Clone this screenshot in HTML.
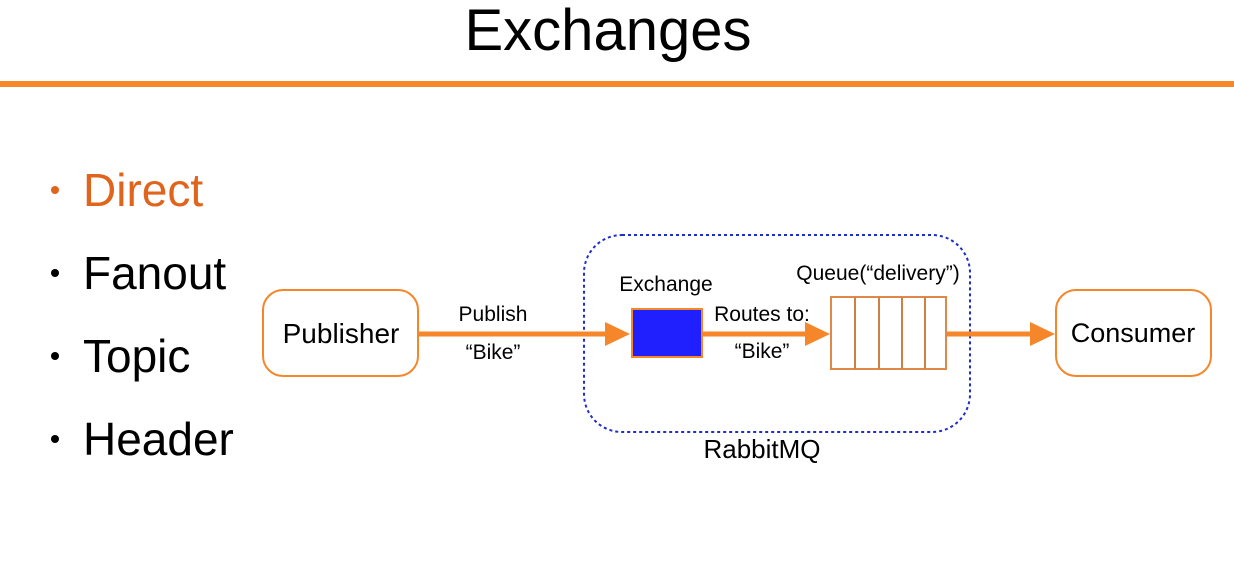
<!DOCTYPE html>
<html><head><style>
body{margin:0;background:#fff;}
svg{display:block;font-family:"Liberation Sans",Arial,sans-serif;}
</style></head><body>
<svg width="1234" height="572" viewBox="0 0 1234 572">
<text x="608" y="50" font-size="58" text-anchor="middle" fill="#000">Exchanges</text>
<rect x="0" y="81" width="1234" height="6" fill="#f5862a"/>
<g font-size="46">
<circle cx="55" cy="190" r="4" fill="#e0641c"/>
<text x="83" y="206" fill="#e0641c">Direct</text>
<circle cx="55" cy="273" r="4" fill="#000"/>
<text x="83" y="289" fill="#000">Fanout</text>
<circle cx="55" cy="356" r="4" fill="#000"/>
<text x="83" y="372" fill="#000">Topic</text>
<circle cx="55" cy="439" r="4" fill="#000"/>
<text x="83" y="455" fill="#000">Header</text>
</g>
<rect x="584" y="235" width="386" height="197" rx="38" fill="none" stroke="#1e2ec8" stroke-width="2" stroke-dasharray="3,3"/>
<rect x="263" y="290" width="155" height="86" rx="20" fill="#fff" stroke="#f5862a" stroke-width="2"/>
<text x="341" y="343" font-size="28" text-anchor="middle">Publisher</text>
<rect x="1056" y="290" width="155" height="86" rx="20" fill="#fff" stroke="#f5862a" stroke-width="2"/>
<text x="1133" y="342" font-size="27" text-anchor="middle">Consumer</text>
<g fill="#f5862a" stroke="#f5862a">
<line x1="418" y1="334" x2="608" y2="334" stroke-width="5"/>
<polygon points="605,322 630,334 605,346" stroke="none"/>
<line x1="703" y1="334" x2="808" y2="334" stroke-width="5"/>
<polygon points="805,322 830,334 805,346" stroke="none"/>
<line x1="946" y1="334" x2="1032" y2="334" stroke-width="5"/>
<polygon points="1030,322 1055,334 1030,346" stroke="none"/>
</g>
<rect x="632" y="309" width="70" height="48" fill="#2020ff" stroke="#f5862a" stroke-width="2"/>
<rect x="831" y="297" width="115" height="72" fill="#fff" stroke="#e0884a" stroke-width="2"/>
<g stroke="#d08040" stroke-width="2">
<line x1="855" y1="297" x2="855" y2="369"/><line x1="879" y1="297" x2="879" y2="369"/>
<line x1="902" y1="297" x2="902" y2="369"/><line x1="925" y1="297" x2="925" y2="369"/>
</g>
<g font-size="21" text-anchor="middle" fill="#000">
<text x="493" y="321">Publish</text>
<text x="493" y="359">“Bike”</text>
<text x="666" y="291">Exchange</text>
<text x="762" y="321">Routes to:</text>
<text x="762" y="358">“Bike”</text>
<text x="878" y="280">Queue(“delivery”)</text>
</g>
<text x="762" y="458" font-size="26" text-anchor="middle">RabbitMQ</text>
</svg>
</body></html>
